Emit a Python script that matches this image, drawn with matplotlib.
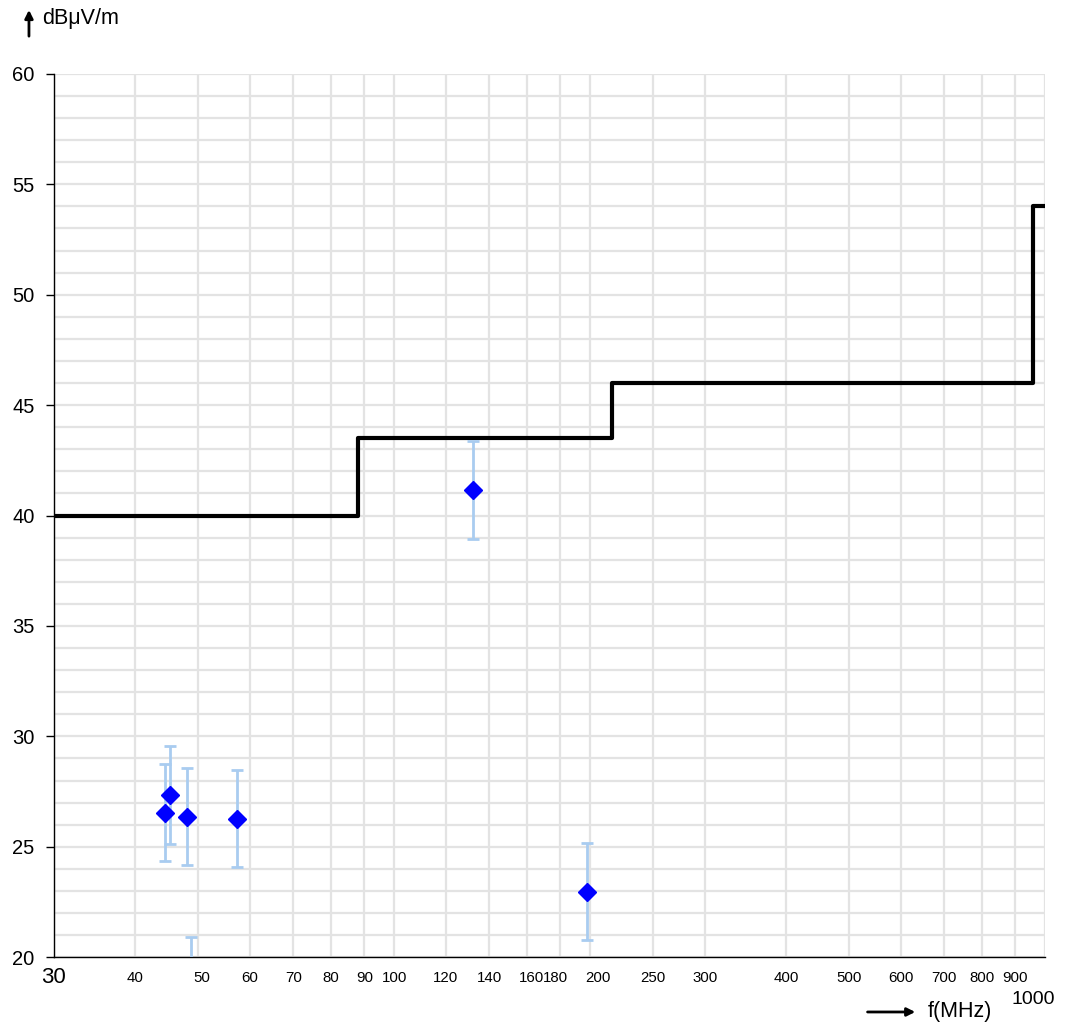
import matplotlib
matplotlib.use("Agg")
import matplotlib.pyplot as plt
from matplotlib.transforms import ScaledTranslation

plt.rcParams["font.family"] = ["Liberation Sans", "DejaVu Sans"]

# limit line (step, post)
limit_freq = [30, 88, 216, 960, 1000]
limit_level = [40, 43.5, 46, 54, 54]

# measured points
meas_freq = [44.5, 45.3, 48.1, 48.7, 57.3, 132.2, 198.0]
meas_level = [26.55, 27.35, 26.36, 18.73, 26.27, 41.16, 22.97]
meas_unc = [2.2, 2.2, 2.2, 2.2, 2.2, 2.2, 2.2]

x_ticks = [30, 40, 50, 60, 70, 80, 90, 100, 120, 140, 160, 180, 200,
           250, 300, 400, 500, 600, 700, 800, 900, 1000]
y_ticks = [20, 25, 30, 35, 40, 45, 50, 55, 60]

fig = plt.figure(figsize=(10.65, 10.25), dpi=100)
ax = fig.add_axes([0.0507, 0.0661, 0.9305, 0.8618])

ax.set_xscale("log")
ax.set_xlim(30, 1000)
ax.set_ylim(20, 60)

ax.set_xticks(x_ticks)
ax.set_xticklabels([str(t) for t in x_ticks], fontsize=10.8)
ax.xaxis.set_minor_locator(matplotlib.ticker.NullLocator())
ax.set_yticks(y_ticks)
ax.set_yticklabels([str(t) for t in y_ticks], fontsize=14.5)
ax.set_yticks(range(20, 61), minor=True)

ax.tick_params(axis="x", which="both", length=0, pad=10)
ax.tick_params(axis="y", which="major", length=6, width=1, pad=8, direction="out")
ax.tick_params(axis="y", which="minor", length=0)

grid_kw = dict(color="#e3e3e3", linewidth=1.6)
ax.grid(True, axis="x", which="major", **grid_kw)
ax.grid(True, axis="y", which="both", **grid_kw)
ax.set_axisbelow(True)

for s in ["top", "right"]:
    ax.spines[s].set_visible(False)
for s in ["left", "bottom"]:
    ax.spines[s].set_linewidth(1)
    ax.spines[s].set_color("black")

# nudge a few tick labels like in the reference
labels = ax.get_xticklabels()
shifts = {160: 4, 180: -5, 200: 8, 50: 3}
for t, lbl in zip(x_ticks, labels):
    if t in shifts:
        lbl.set_transform(lbl.get_transform() +
                          ScaledTranslation(shifts[t] / 100, 0, fig.dpi_scale_trans))
labels[0].set_fontsize(16)
labels[0].set_transform(labels[0].get_transform() +
                        ScaledTranslation(-1 / 100, 4 / 100, fig.dpi_scale_trans))
labels[-1].set_fontsize(14)
labels[-1].set_transform(labels[-1].get_transform() +
                         ScaledTranslation(-12 / 100, -20 / 100, fig.dpi_scale_trans))

ax.step(limit_freq, limit_level, where="post", color="black", linewidth=3, zorder=3)

ax.errorbar(meas_freq, meas_level, yerr=meas_unc, fmt="none", ecolor="#a9ccf0",
            elinewidth=2, capsize=4, capthick=2, zorder=4)
ax.plot(meas_freq, meas_level, linestyle="none", marker="D", markersize=9,
        color="#0000ff", zorder=5)

# axis captions with arrows
fig.text(0.0394, 0.9815, "dB\u03bcV/m", fontsize=15.5, ha="left", va="center")
fig.patches.append(matplotlib.patches.FancyArrowPatch(
    (0.0272, 0.962), (0.0272, 0.993), transform=fig.transFigure,
    arrowstyle="-|>", mutation_scale=12, linewidth=2, color="black"))
fig.text(0.8714, 0.0127, "f(MHz)", fontsize=15.5, ha="left", va="center")
fig.patches.append(matplotlib.patches.FancyArrowPatch(
    (0.812, 0.0127), (0.862, 0.0127), transform=fig.transFigure,
    arrowstyle="-|>", mutation_scale=12, linewidth=2, color="black"))

fig.savefig("out.png", dpi=100)
